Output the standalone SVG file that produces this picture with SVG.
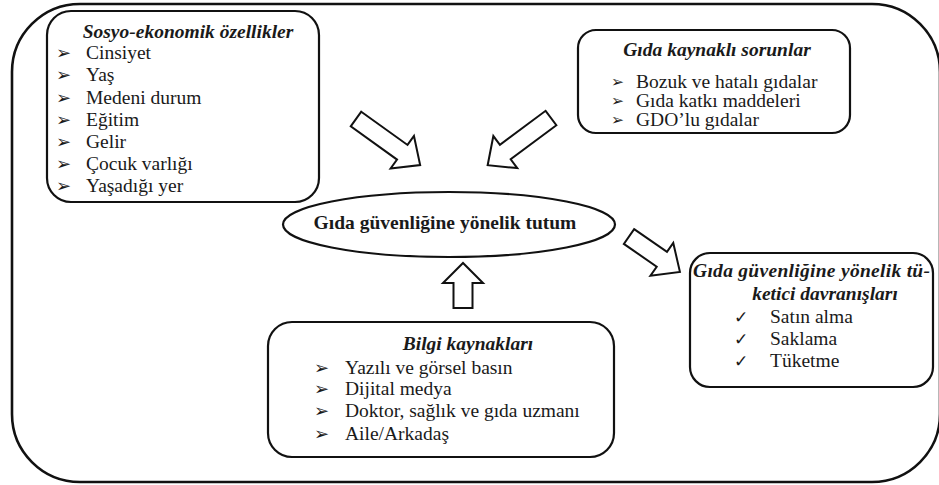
<svg xmlns="http://www.w3.org/2000/svg" width="939" height="485" viewBox="0 0 939 485">
<style>
.box{fill:#fff;stroke:#111;stroke-width:2.2}
.outer{fill:#fff;stroke:#111;stroke-width:2.6}
.arrow{fill:#fff;stroke:#111;stroke-width:2;stroke-linejoin:miter}
</style>
<rect class="outer" x="12" y="4" width="928" height="478" rx="68"/>
<g font-family="Liberation Serif, Times New Roman, serif" font-size="19.5" fill="#1a1a1a">
<g id="sosyo">
<rect class="box" x="47" y="11" width="272" height="191" rx="24"/>
<text font-weight="bold" font-style="italic" x="188" y="38" text-anchor="middle">Sosyo-ekonomik özellikler</text>
<g font-family="DejaVu Sans, sans-serif" font-size="18">
<text x="56" y="59">➢</text><text x="56" y="81">➢</text><text x="56" y="104">➢</text><text x="56" y="126">➢</text><text x="56" y="148">➢</text><text x="56" y="170">➢</text><text x="56" y="192">➢</text>
</g>
<text x="86" y="59">Cinsiyet</text>
<text x="86" y="81">Yaş</text>
<text x="86" y="104">Medeni durum</text>
<text x="86" y="126">Eğitim</text>
<text x="86" y="148">Gelir</text>
<text x="86" y="170">Çocuk varlığı</text>
<text x="86" y="192">Yaşadığı yer</text>
</g>
<g id="gida">
<rect class="box" x="578" y="30" width="272" height="103" rx="18"/>
<text font-weight="bold" font-style="italic" x="717" y="56" text-anchor="middle">Gıda kaynaklı sorunlar</text>
<g font-family="DejaVu Sans, sans-serif" font-size="15.5">
<text x="611" y="87">➢</text><text x="611" y="106">➢</text><text x="611" y="125">➢</text>
</g>
<text x="636" y="88">Bozuk ve hatalı gıdalar</text>
<text x="636" y="107">Gıda katkı maddeleri</text>
<text x="636" y="126">GDO’lu gıdalar</text>
</g>
<g id="tutum">
<ellipse class="box" cx="449" cy="224.5" rx="166" ry="32.5"/>
<text font-weight="bold" x="445" y="229" text-anchor="middle">Gıda güvenliğine yönelik tutum</text>
</g>
<g id="bilgi">
<rect class="box" x="268" y="322" width="346" height="135" rx="24"/>
<text font-weight="bold" font-style="italic" x="468" y="350" text-anchor="middle">Bilgi kaynakları</text>
<g font-family="DejaVu Sans, sans-serif" font-size="18">
<text x="314" y="374">➢</text><text x="314" y="395">➢</text><text x="314" y="417">➢</text><text x="314" y="440">➢</text>
</g>
<text x="345" y="374">Yazılı ve görsel basın</text>
<text x="345" y="395">Dijital medya</text>
<text x="345" y="417">Doktor, sağlık ve gıda uzmanı</text>
<text x="345" y="440">Aile/Arkadaş</text>
</g>
<g id="davranis">
<rect class="box" x="690" y="253" width="243" height="134" rx="20"/>
<text font-weight="bold" font-style="italic" x="693" y="277" textLength="237" lengthAdjust="spacing">Gıda güvenliğine yönelik tü-</text>
<text font-weight="bold" font-style="italic" x="825" y="300" text-anchor="middle">ketici davranışları</text>
<g font-family="DejaVu Sans, sans-serif" font-size="17" font-weight="bold">
<text x="734" y="323">✓</text><text x="734" y="345">✓</text><text x="734" y="367">✓</text>
</g>
<text x="770" y="323">Satın alma</text>
<text x="770" y="345">Saklama</text>
<text x="770" y="367">Tüketme</text>
</g>
</g>
<g id="connectors">
<path class="arrow" transform="translate(356,119) rotate(35.7)" d="M0,-9 H57 V-20 L79,0 L57,20 V9 H0 Z"/>
<path class="arrow" transform="translate(551,118) rotate(143.3)" d="M0,-9 H57 V-20 L79,0 L57,20 V9 H0 Z"/>
<path class="arrow" transform="translate(463,308) rotate(-90)" d="M0,-9.5 H25 V-20 L45,0 L25,20 V9.5 H0 Z"/>
<path class="arrow" transform="translate(629,236.5) rotate(34.8)" d="M0,-9 H40 V-20 L62,0 L40,20 V9 H0 Z"/>
</g>
</svg>
